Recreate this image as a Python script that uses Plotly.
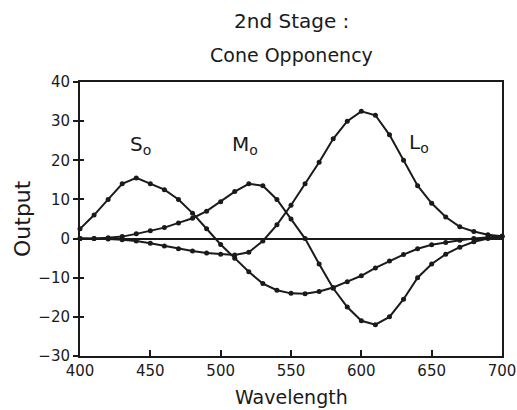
import plotly.graph_objects as go

wavelength = list(range(400, 701, 10))

s_o = [2.5, 6, 10, 14, 15.5, 14, 12.5, 10, 6.5, 2.5, -1.5, -5, -8.5, -11.5, -13.2, -14,
       -14.1, -13.5, -12.5, -11, -9.5, -7.5, -5.7, -4.1, -2.6, -1.6, -1.0, -0.4, 0, 0.3, 0.6]
m_o = [0, 0, 0.2, 0.5, 1.2, 2, 2.8, 4, 5.2, 7, 9.4, 12, 14, 13.5, 10, 5,
       0, -6.5, -12.7, -17.5, -21, -22, -20, -15.5, -10, -6.5, -4, -2.2, -0.8, 0, 0.5]
l_o = [0, 0, -0.1, -0.3, -0.6, -1.2, -1.9, -2.6, -3.2, -3.7, -4, -4.2, -3.5, -0.6, 3.5, 8.5,
       14, 19.5, 25.5, 30, 32.5, 31.5, 26.5, 20, 13.5, 9, 5.5, 3, 1.8, 1, 0.6]

x_ticks = [400, 450, 500, 550, 600, 650, 700]
y_ticks = [-30, -20, -10, 0, 10, 20, 30, 40]

labels = ["S<sub>o</sub>", "M<sub>o</sub>", "L<sub>o</sub>"]
label_x = [443, 517, 641]
label_y = [24, 24, 24.3]

font_family = "DejaVu Sans"
ink = "#1a1a1a"

fig = go.Figure()
for name, ys in zip(["S", "M", "L"], [s_o, m_o, l_o]):
    fig.add_trace(go.Scatter(
        x=wavelength, y=ys, mode="lines+markers", name=name,
        line=dict(color=ink, width=2),
        marker=dict(color=ink, size=5),
        showlegend=False, cliponaxis=False,
    ))
# invisible companion trace so the inner tick marks (y2) get drawn
fig.add_trace(go.Scatter(x=wavelength, y=s_o, yaxis="y2", mode="lines",
                         line=dict(width=0), opacity=0, hoverinfo="skip",
                         showlegend=False))

for t, x, y in zip(labels, label_x, label_y):
    fig.add_annotation(x=x, y=y, text=t, showarrow=False,
                       font=dict(family=font_family, size=20, color=ink))

fig.add_annotation(x=0.5, y=1, xref="paper", yref="paper", yshift=61,
                   text="2nd Stage :", showarrow=False, yanchor="middle",
                   font=dict(family=font_family, size=20, color=ink))
fig.add_annotation(x=0.5, y=1, xref="paper", yref="paper", yshift=27,
                   text="Cone Opponency", showarrow=False, yanchor="middle",
                   font=dict(family=font_family, size=19, color=ink))
fig.add_annotation(x=0.5, y=0, xref="paper", yref="paper", yshift=-41,
                   text="Wavelength", showarrow=False, yanchor="middle",
                   font=dict(family=font_family, size=19, color=ink))
fig.add_annotation(x=0, y=0.5, xref="paper", yref="paper", xshift=-58,
                   text="Output", showarrow=False, xanchor="center", textangle=-90,
                   font=dict(family=font_family, size=22, color=ink))

fig.update_layout(
    xaxis=dict(
        range=[400, 700], tickvals=x_ticks, ticks="inside", ticklen=6,
        tickwidth=1.5, tickcolor=ink, showline=True, linecolor=ink, linewidth=2,
        mirror=True, showgrid=False, zeroline=False, automargin=False,
        ticklabeloverflow="allow",
        tickfont=dict(family=font_family, size=15, color=ink),
    ),
    yaxis=dict(
        range=[-30, 40], tickvals=y_ticks, ticks="outside", ticklen=5,
        tickwidth=1.5, tickcolor=ink, showline=True, linecolor=ink, linewidth=2,
        mirror=True, showgrid=False, zeroline=True, zerolinecolor=ink, zerolinewidth=1.5,
        automargin=False, ticklabeloverflow="allow",
        tickfont=dict(family=font_family, size=15, color=ink),
    ),
    yaxis2=dict(
        range=[-30, 40], tickvals=y_ticks, ticks="inside", ticklen=4,
        tickwidth=1.5, tickcolor=ink, overlaying="y", side="left",
        showticklabels=False, showline=False, showgrid=False, zeroline=False,
        automargin=False,
    ),
    width=517, height=410,
    margin=dict(l=80, r=15, t=82, b=54),
    plot_bgcolor="white", paper_bgcolor="white",
)

fig.write_html(
    "out.html",
    config={"displayModeBar": False},
    post_script="document.body.style.margin='0';document.body.style.overflow='hidden';",
)
